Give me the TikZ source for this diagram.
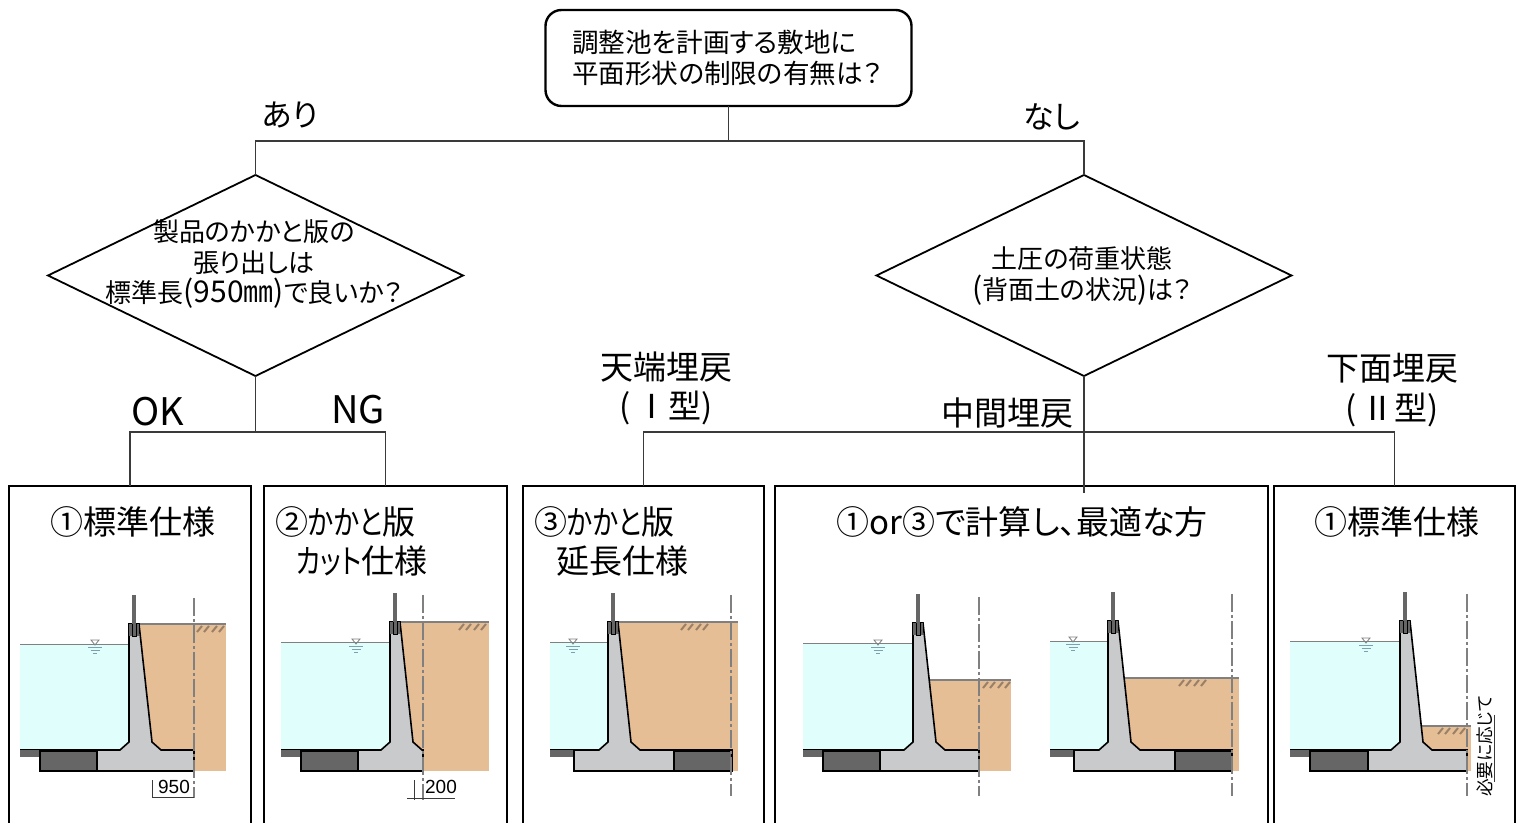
\documentclass[tikz,border=0pt]{standalone}
\usepackage{fontspec}
\setmainfont[RawFeature=+palt]{Noto Sans CJK JP}
\newfontfamily\dimfont{Liberation Sans}
\usetikzlibrary{shapes.geometric}
\definecolor{waterc}{HTML}{E0FFFC}
\definecolor{soilc}{HTML}{E6BE96}
\definecolor{concc}{HTML}{C9CACC}
\definecolor{blockc}{HTML}{666666}
\definecolor{linec}{HTML}{3A3A3A}
\newcommand{\narrowkana}[1]{\scalebox{0.8}[1]{#1}}
\newcommand{\bigparen}[1]{{\fontsize{15}{15}\selectfont #1}}
\tikzset{
    branch/.style={draw=linec, line width=0.7pt}, % tree lines
    question/.style={draw=black, line width=0.9pt, diamond, inner sep=0pt, outer sep=0pt, minimum width=207.5pt, minimum height=100.5pt},
    qtext/.style={align=center, font=\fontsize{13}{15.3}\selectfont, inner sep=0pt},
    startbox/.style={draw=black, line width=1.2pt, rounded corners=8pt, inner sep=0pt, outer sep=0pt, minimum width=183pt, minimum height=48pt},
    answer/.style={font=\fontsize{16.5}{19}\selectfont, align=center, inner sep=0pt},
    smallanswer/.style={font=\fontsize{15.5}{17}\selectfont, inner sep=0pt},
    latinanswer/.style={font=\fontsize{19}{21}\selectfont, inner sep=0pt},
    panelbox/.style={draw=black, line width=1.4pt, anchor=north west, inner sep=0pt, outer sep=0pt, minimum height=200pt},
    ptitle/.style={font=\fontsize{16.5}{19}\selectfont, inner sep=0pt, anchor=west},
    cline/.style={draw=gray, line width=0.6pt, dash pattern=on 9pt off 1.5pt on 1.5pt off 1.5pt},
    dimline/.style={draw=linec, line width=0.4pt},
    dimtext/.style={font=\dimfont\fontsize{9.5}{11}\selectfont, inner sep=0pt},
    waterlvl/.pic={
        \draw[gray, line width=0.4pt] (-4,-4) -- (4,-4) -- (0,1) -- cycle;
        \draw[gray!70!cyan, line width=0.4pt] (-7,3) -- (7,3) (-4.5,6) -- (4.5,6) (-2,9) -- (2,9);
    },
    soilmark/.pic={
        \foreach \i in {0,7,15,22} \draw[gray!60!brown, line width=1pt] (\i,6) -- (\i+5,0);
    },
}
% water left, wall left, wall top, base left, base right, block left, block right, soil top, soil right
\newcommand{\wallsec}[9]{
    \fill[soilc] ({#2+5},#8) rectangle (#9,771);
    \draw[gray, line width=0.6pt] ({#2+5},#8) -- (#9,#8);
    \fill[waterc] (#1,{#3+21}) rectangle (#2,750);
    \draw[gray, line width=0.5pt] (#1,{#3+21}) -- (#2,{#3+21});
    \fill[blockc] (#1,750) rectangle (#4,757);
    \draw[line width=0.8pt, fill=concc] (#2,#3) -- (#2,742) -- ({#2-9},750) -- (#4,750) -- (#4,771) -- (#5,771) -- (#5,750)
        -- ({#2+32},750) -- ({#2+23},742) -- ({#2+10},#3) -- cycle;
    \draw[line width=0.5pt] (#1,750) -- (#4,750);
    \draw[line width=0.7pt, fill=blockc] (#6,751) rectangle (#7,771);
    \fill[blockc] ({#2+3},{#3-29}) rectangle ({#2+7},#3);
    \fill[blockc] (#2,#3) rectangle ({#2+10},{#3+12});
    \draw[line width=0.5pt] ({#2+3},#3) -- ({#2+3},{#3+13}) -- ({#2+7},{#3+13}) -- ({#2+7},#3);
}

\begin{document}
\begin{tikzpicture}[x=0.5pt, y=-0.5pt]
    \useasboundingbox (0,0) rectangle (1517,823);
    % sections
    \wallsec{20}{129}{624}{40}{194}{40}{97}{624}{226}
    \wallsec{281}{390}{622}{301}{423}{301}{358}{622}{489}
    \wallsec{550}{608}{622}{574}{732}{674}{732}{622}{738}
    \wallsec{803}{913}{623}{823}{979}{823}{880}{680}{1011}
    \wallsec{1050}{1108}{621}{1074}{1232}{1175}{1232}{678}{1239}
    \wallsec{1290}{1400}{621}{1310}{1467}{1310}{1368}{726}{1471}
    \pic at (95,644) {waterlvl};
    \pic at (356,643) {waterlvl};
    \pic at (573,643) {waterlvl};
    \pic at (878,644) {waterlvl};
    \pic at (1073,641) {waterlvl};
    \pic at (1366,642) {waterlvl};
    \pic at (197,626) {soilmark};
    \pic at (459,624) {soilmark};
    \pic at (681,624) {soilmark};
    \pic at (983,682) {soilmark};
    \pic at (1179,680) {soilmark};
    \pic at (1438,728) {soilmark};
    \draw[cline] (194,598) -- (194,798);
    \draw[cline] (423,595) -- (423,800);
    \draw[cline] (731,595) -- (731,796);
    \draw[cline] (979,597) -- (979,796);
    \draw[cline] (1232,594) -- (1232,796);
    \draw[cline] (1467,594) -- (1467,796);

    % flow part
    \node[startbox] (start) at (728.5,58) {};
    \node[qtext, align=left, font=\fontsize{13.3}{15.5}\selectfont] (starttext) at (727,58) {調整池を計画する敷地に\\平面形状の制限の有無は？};
    \node[question] (qleft) at (255.5,275.5) {};
    \node[question] (qright) at (1084,275.5) {};
    \node[qtext] (qlefttext) at (254,264) {製品のかかと版の\\張り出しは\\標準長\bigparen{(950㎜)}で良いか？};
    \node[qtext] (qrighttext) at (1082,276) {土圧の荷重状態\\\bigparen{(}背面土の状況\bigparen{)}は？};
    \node[panelbox, minimum width=121pt] (panela) at (9,486) {};
    \node[panelbox, minimum width=121.5pt] (panelb) at (264,486) {};
    \node[panelbox, minimum width=120.5pt] (panelc) at (523,486) {};
    \node[panelbox, minimum width=246.5pt] (paneld) at (775,486) {};
    \node[panelbox, minimum width=120.5pt] (panele) at (1274,486) {};

    \coordinate (jtop) at (728.5,141);
    \coordinate (jleft) at (255.5,432);
    \coordinate (jright) at (1084,432);
    \coordinate (rightend) at (1084,493);
    \draw[branch] (start.south) -- (jtop);
    \draw[branch] (qleft.north) |- (jtop);
    \draw[branch] (qright.north) |- (jtop);
    \draw[branch] (qleft.south) -- (jleft);
    \draw[branch] (panela.north) |- (jleft);
    \draw[branch] (panelb.north) |- (jleft);
    \draw[branch] (qright.south) -- (rightend);
    \draw[branch] (panelc.north) |- (jright);
    \draw[branch] (panele.north) |- (jright);

    % labels
    \node[smallanswer] (ari) at (290,115) {あり};
    \node[smallanswer] (nashi) at (1052,117) {なし};
    \node[latinanswer] (ok) at (158,412) {OK};
    \node[latinanswer] (ng) at (358,410) {NG};
    \node[answer] (type1a) at (666,367) {天端埋戻};
    \node[answer] (type1b) at (666,408) {(\,Ⅰ型)};
    \node[answer] (middle) at (1007,413) {中間埋戻};
    \node[answer] (type2a) at (1392,368) {下面埋戻};
    \node[answer] (type2b) at (1392,410) {(\,Ⅱ型)};

    % panel titles
    \node[ptitle] (titlea) at (50,522) {①標準仕様};
    \node[ptitle] (titleb) at (275,522) {②\narrowkana{かかと}版};
    \node[ptitle] (titleb2) at (296,561) {\narrowkana{カット}仕様};
    \node[ptitle] (titlec) at (534,522) {③\narrowkana{かかと}版};
    \node[ptitle] (titlec2) at (556,561) {延長仕様};
    \node[ptitle] (titled) at (836,522) {①or③で計算し、最適な方};
    \node[ptitle] (titlee) at (1314,522) {①標準仕様};

    % dimensions
    \node[dimtext] (dima) at (174,787) {950};
    \draw[dimline] (152,780) -- (152,798) (152,797) -- (194,797);
    \node[dimtext] (dimb) at (441,787) {200};
    \draw[dimline] (414,780) -- (414,800) (407,798) -- (455,798);
    \node[rotate=90, inner sep=0pt, font=\fontsize{8.8}{11}\selectfont] (asneeded) at (1485,746) {必要に応じて};
    \draw[dimline] (1494,715) -- (1494,782);
\end{tikzpicture}
\end{document}
